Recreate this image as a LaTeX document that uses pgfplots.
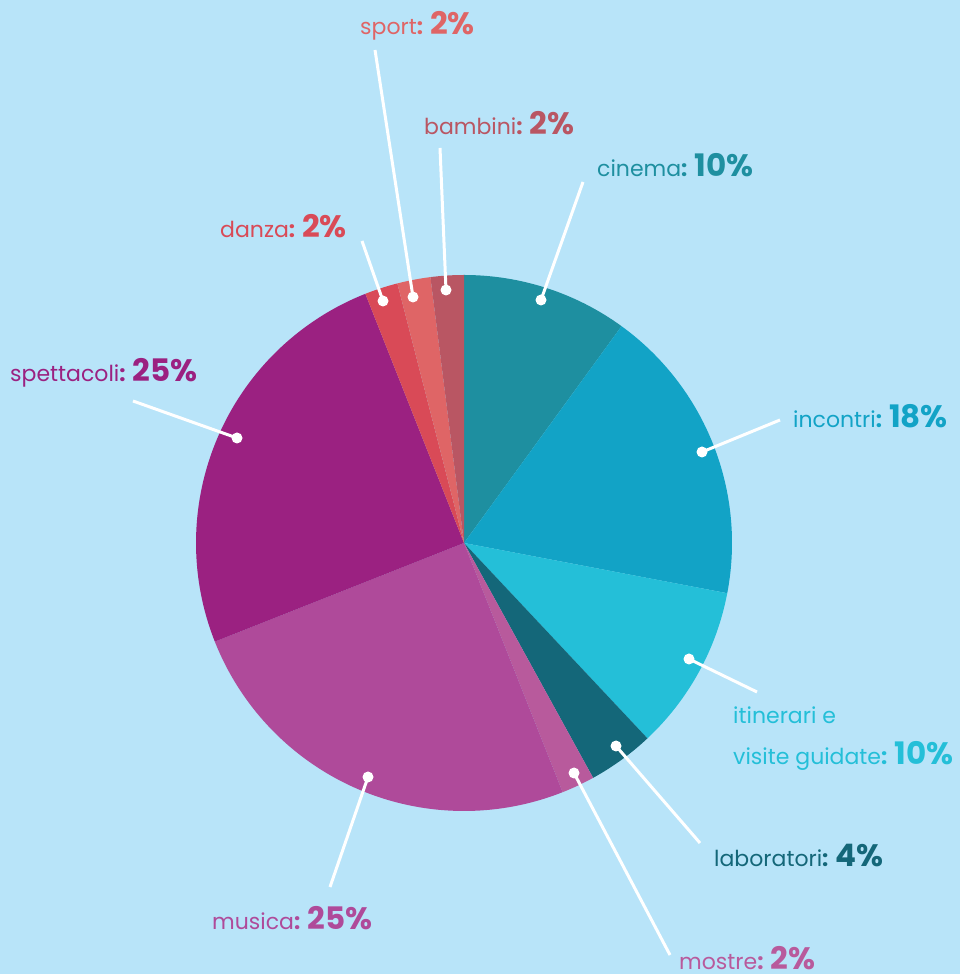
\documentclass[border=0pt]{standalone}
\usepackage{pgfplots}
\usepackage{pgfplotstable}
\pgfplotsset{compat=1.18}
\usepackage{fontspec}
\setmainfont{Poppins}

\definecolor{bg}{HTML}{B8E4F9}
\definecolor{cinema}{HTML}{1E8FA0}
\definecolor{incontri}{HTML}{12A3C6}
\definecolor{itinerari}{HTML}{24BFD8}
\definecolor{laboratori}{HTML}{146779}
\definecolor{mostre}{HTML}{B85A9C}
\definecolor{musica}{HTML}{AF4A9A}
\definecolor{spettacoli}{HTML}{9B2181}
\definecolor{danza}{HTML}{D94A57}
\definecolor{sport}{HTML}{DF6566}
\definecolor{bambini}{HTML}{B95663}

% share of each category, clockwise from the top
\pgfplotstableread{
value color
10 cinema
18 incontri
10 itinerari
4 laboratori
2 mostre
25 musica
25 spettacoli
2 danza
2 sport
2 bambini
}\piedata

\newcommand{\lab}[4]{% x, y, colour, text
  \node[anchor=base west, inner sep=0pt, text=#3,
        font=\fontsize{22}{26}\selectfont] at (axis cs:#1,#2) {#4};}
\newcommand{\pct}[1]{{\bfseries :\hspace{7pt}\fontsize{31}{33}\selectfont #1\%}}

\begin{document}
\begin{tikzpicture}
\begin{axis}[
    name=ax,
    x=1pt, y=1pt,
    xmin=0, xmax=960, ymin=0, ymax=974,
    enlargelimits=false,
    hide axis,
    clip=false,
]
\fill[bg] (axis cs:0,0) rectangle (axis cs:960,974);

% slices
\def\cum{0}
\pgfplotsforeachungrouped \i in {0,...,9}{
  \pgfplotstablegetelem{\i}{value}\of\piedata \let\v\pgfplotsretval
  \pgfplotstablegetelem{\i}{color}\of\piedata \let\c\pgfplotsretval
  \pgfmathsetmacro\sa{90-3.6*\cum}
  \pgfmathsetmacro\ea{90-3.6*(\cum+\v)}
  \edef\temp{\noexpand\fill[\c] (axis cs:464,431) -- ([shift={(\sa:268pt)}]axis cs:464,431)
    arc[start angle=\sa, end angle=\ea, radius=268pt] -- cycle;}
  \temp
  \pgfmathsetmacro\cum{\cum+\v}
}

% leader lines
\foreach \dx/\dy/\ex/\ey in {541/674/583/792, 702/522/780/554, 689/315/757/282,
    616/228/700/131, 574/201/670/19, 368/197/330/87, 237/536/133/573,
    383/673/362/733, 413/677/375/924, 446/684/440/826}{
  \edef\temp{\noexpand\draw[white, line width=3pt] (axis cs:\dx,\dy) -- (axis cs:\ex,\ey);
    \noexpand\fill[white] (axis cs:\dx,\dy) circle[radius=5.5pt];}
  \temp
}

\lab{360}{939}{sport}{sport\pct{2}}
\lab{424}{839}{bambini}{bambini\pct{2}}
\lab{597}{797}{cinema}{cinema\pct{10}}
\lab{220}{736}{danza}{danza\pct{2}}
\lab{10}{592}{spettacoli}{spettacoli\pct{25}}
\lab{793}{546}{incontri}{incontri\pct{18}}
\lab{733}{250}{itinerari}{itinerari e}
\lab{733}{209}{itinerari}{visite guidate\pct{10}}
\lab{714}{107}{laboratori}{laboratori\pct{4}}
\lab{212}{44}{musica}{musica\pct{25}}
\lab{679}{5}{mostre}{mostre\pct{2}}
\end{axis}
\pgfresetboundingbox
\path (ax.south west) rectangle (ax.north east);
\end{tikzpicture}
\end{document}
